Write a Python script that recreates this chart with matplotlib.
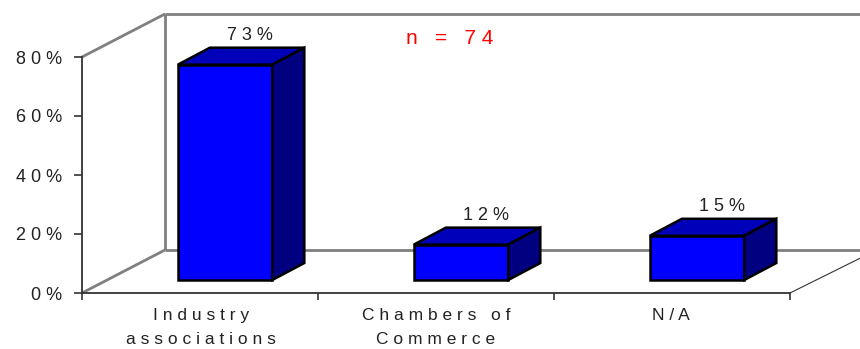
import matplotlib
matplotlib.use("Agg")
import matplotlib.pyplot as plt

plt.rcParams['font.family'] = ['Liberation Sans', 'DejaVu Sans']

# =======================
# Data
# =======================
categories = ["I n d u s t r y\na s s o c i a t i o n s",
              "C h a m b e r s   o f\nC o m m e r c e",
              "N / A"]
values = [73, 12, 15]
value_labels = ["7 3 %", "1 2 %", "1 5 %"]
y_ticks = [0, 20, 40, 60, 80]
y_tick_labels = ["0 %", "2 0 %", "4 0 %", "6 0 %", "8 0 %"]

# 3D look, in axis units (categories across, percent up)
WALL_DX, WALL_DY = 0.352, 14.6
BAR_DX, BAR_DY = 0.136, 5.76
FRONT_DX, FRONT_DY = 0.106, 4.4
HALF_W = 0.2

fig = plt.figure(figsize=(8.6, 3.49), dpi=100)
ax = fig.add_axes([82 / 860, 1 - 293 / 349, 708 / 860, 236 / 349])
ax.set_xlim(0, 3)
ax.set_ylim(0, 80)
ax.patch.set_visible(False)

for side in ["top", "right"]:
    ax.spines[side].set_visible(False)
for side in ["left", "bottom"]:
    ax.spines[side].set_color("#333333")
    ax.spines[side].set_linewidth(1.3)
    ax.spines[side].set_zorder(2)

# back walls and floor edges
gray = "#808080"
x_end = 3 + 0.297
wall = dict(color=gray, lw=2, clip_on=False, zorder=1, solid_capstyle="butt")
ax.plot([WALL_DX, WALL_DX], [WALL_DY, 80 + WALL_DY], **wall)
ax.plot([WALL_DX, x_end], [80 + WALL_DY] * 2, **wall)
ax.plot([WALL_DX, x_end], [WALL_DY] * 2, **wall)
ax.plot([0, WALL_DX], [80, 80 + WALL_DY], **wall)
ax.plot([0, WALL_DX], [0, WALL_DY], **wall)
ax.plot([3, x_end], [0, 0.475 * 2 * WALL_DY * 0.85], color="#333333", lw=0.8, clip_on=False, zorder=1)

# bars
for i, v in enumerate(values):
    cx = i + 0.5 + FRONT_DX
    x0, x1 = cx - HALF_W, cx + HALF_W
    y0, y1 = FRONT_DY, FRONT_DY + v
    edge = dict(edgecolor="black", linewidth=1.8, clip_on=False, zorder=3, joinstyle="miter")
    ax.fill([x0, x1, x1, x0], [y0, y0, y1, y1], facecolor="#0000FF", **edge)
    ax.fill([x0, x1, x1 + BAR_DX, x0 + BAR_DX], [y1, y1, y1 + BAR_DY, y1 + BAR_DY],
            facecolor="#0000BB", **edge)
    ax.fill([x1, x1 + BAR_DX, x1 + BAR_DX, x1], [y0, y0 + BAR_DY, y1 + BAR_DY, y1],
            facecolor="#000080", **edge)
    ax.text(cx + 0.107, y1 + 10, value_labels[i], ha="center", va="center",
            fontsize=13, color="#222222", clip_on=False)

ax.set_yticks(y_ticks, y_tick_labels, fontsize=13, color="#222222")
ax.set_xticks([0, 1, 2, 3], [])
ax.tick_params(axis="y", length=6, width=1.2, color="#333333", pad=8)
ax.tick_params(axis="x", length=5, width=1.2, color="#333333")

# category labels sit between the ticks
label_x = [0.504, 1.5, 2.496]
for lx, name in zip(label_x, categories):
    ax.text(lx, -5, name, ha="center", va="top", fontsize=12.5, color="#222222",
            linespacing=1.8, clip_on=False)

ax.text(1.56, 86.2, "n   =   7 4", color="#FF0000", fontsize=15, ha="center", va="center")

fig.savefig("out.png", dpi=100)
